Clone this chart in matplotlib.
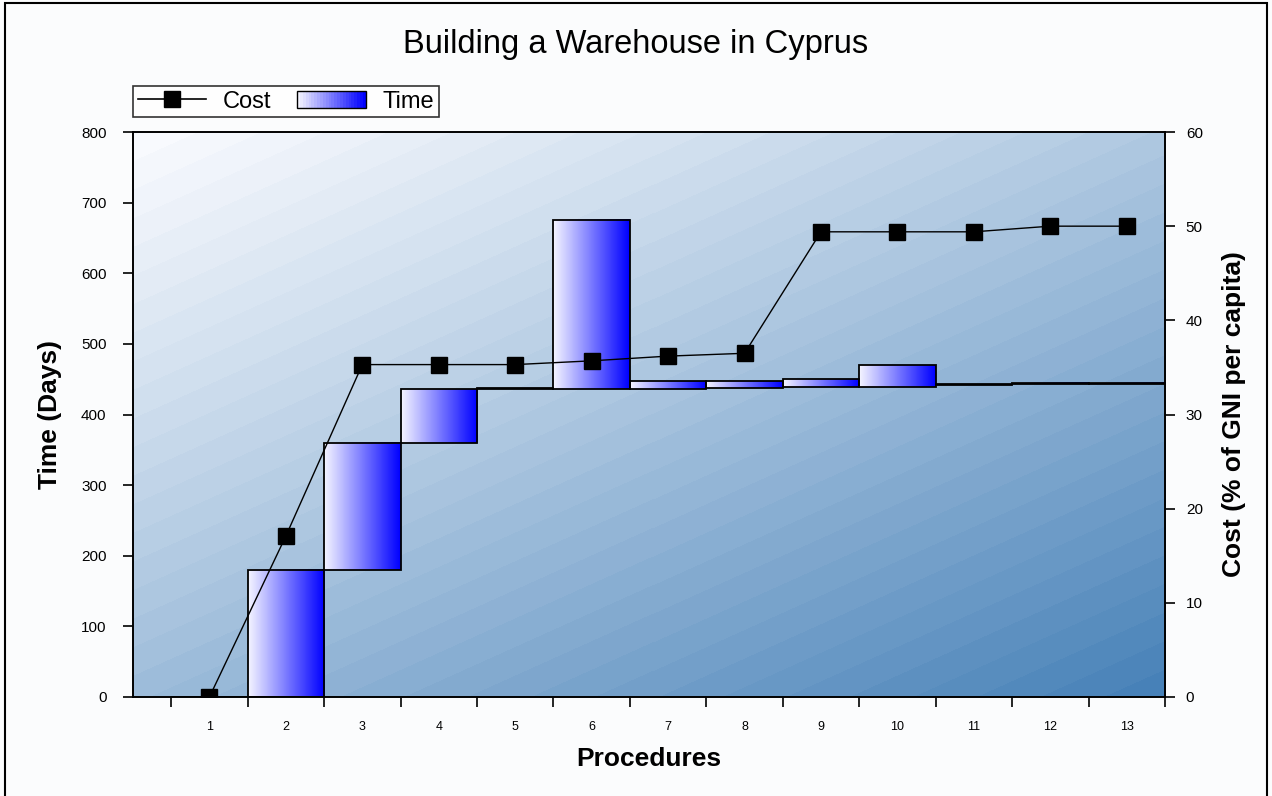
import numpy as np
import matplotlib
matplotlib.use("Agg")
import matplotlib.pyplot as plt
from matplotlib.patches import Rectangle
from matplotlib.lines import Line2D
from matplotlib.legend_handler import HandlerBase

plt.rcParams['font.family'] = ['Liberation Sans', 'DejaVu Sans']

# data
procedures = list(range(1, 14))
time_start = [0, 0, 180, 360, 436, 436, 436, 438, 439, 439, 442, 443, 443]
time_end = [0, 180, 360, 436, 437, 676, 447, 447, 450, 470, 443, 445, 445]
cost = [0, 17.1, 35.3, 35.3, 35.3, 35.7, 36.2, 36.5, 49.4, 49.4, 49.4, 50.0, 50.0]
time_ticks = list(range(0, 801, 100))
cost_ticks = list(range(0, 61, 10))

bar_cmap = matplotlib.colors.LinearSegmentedColormap.from_list('bar', ['#f4f4ff', '#0000ff'])

fig = plt.figure(figsize=(12.72, 7.96), dpi=100, facecolor='#fbfcfd')
ax = fig.add_axes([133 / 1272, 1 - 697 / 796, 1032 / 1272, 565 / 796])
ax2 = ax.twinx()

# diagonal banded background
W, H = 1032, 565
xx, yy = np.meshgrid(np.arange(W), np.arange(H))
t = (0.45 * xx + yy) / (0.45 * W + H)
t = np.floor(t * 36) / 36
c0 = np.array([248, 250, 254]) / 255
c1 = np.array([66, 126, 182]) / 255
bg = c0 + (c1 - c0) * t[..., None] ** 1.1
ax.imshow(bg, extent=(0, 1, 0, 1), transform=ax.transAxes, aspect='auto', zorder=0,
          interpolation='nearest')

# floating time bars
heights = [e - s for s, e in zip(time_start, time_end)]
bars = ax.bar(procedures, heights, bottom=time_start, width=1.0,
              facecolor='none', edgecolor='black', linewidth=1.3, zorder=3)
grad = np.linspace(0, 1, 64).reshape(1, -1)
for b in bars:
    if b.get_height() <= 0:
        continue
    x0, y0 = b.get_x(), b.get_y()
    ax.imshow(grad, cmap=bar_cmap, extent=(x0, x0 + b.get_width(), y0, y0 + b.get_height()),
              aspect='auto', zorder=2, interpolation='bilinear')

ax.set_xlim(0, 13.5)
ax.set_ylim(0, 800)
ax.set_yticks(time_ticks)
ax.set_xticks(procedures)
ax.set_xticks(np.arange(0.5, 13.6, 1), minor=True)
ax.tick_params(axis='x', which='major', length=0, labelsize=9, pad=17)
ax.tick_params(axis='x', which='minor', length=7, width=1.2, direction='out')
ax.tick_params(axis='y', length=7, width=1.2, labelsize=11, direction='out', pad=12)
ax.set_xlabel('Procedures', fontsize=19, fontweight='bold', labelpad=10)
ax.set_ylabel('Time (Days)', fontsize=19, fontweight='bold', labelpad=14)

# cost line
ax2.plot(procedures, cost, color='black', linewidth=1.0, marker='s', markersize=12,
         markerfacecolor='black', zorder=5)
ax2.set_ylim(0, 60)
ax2.set_yticks(cost_ticks)
ax2.tick_params(axis='y', length=7, width=1.2, labelsize=11, direction='out', pad=8)
ax2.set_ylabel('Cost (% of GNI per capita)', fontsize=19, fontweight='bold', labelpad=14)

for a in (ax, ax2):
    for s in a.spines.values():
        s.set_linewidth(1.2)
        s.set_color('black')

fig.suptitle('Building a Warehouse in Cyprus', fontsize=23.5, y=1 - 45 / 796, va='center')


class GradientHandler(HandlerBase):
    def create_artists(self, legend, orig_handle, xdescent, ydescent, width, height, fontsize, trans):
        n = 24
        arts = []
        for i in range(n):
            r = Rectangle((-xdescent + width * i / n, -ydescent), width / n + 0.3, height,
                          facecolor=bar_cmap(i / (n - 1)), edgecolor='none', transform=trans)
            arts.append(r)
        arts.append(Rectangle((-xdescent, -ydescent), width, height, facecolor='none',
                              edgecolor='black', linewidth=1.0, transform=trans))
        return arts


cost_handle = Line2D([], [], color='black', marker='s', markersize=12, linewidth=1.2)
time_handle = Rectangle((0, 0), 1, 1)
leg = fig.legend([cost_handle, time_handle], ['Cost', 'Time'], ncol=2,
                 loc='upper left', bbox_to_anchor=(133 / 1272, 1 - 86 / 796),
                 handler_map={Rectangle: GradientHandler()},
                 fontsize=17, frameon=True, fancybox=False, edgecolor='black',
                 borderpad=0.2, handlelength=2.9, handletextpad=0.7, columnspacing=1.1,
                 borderaxespad=0)
leg.get_frame().set_linewidth(1.2)
leg.get_frame().set_facecolor('white')

# outer frame
fig.patches.append(Rectangle((5 / 1272, -0.02), 1 - 10 / 1272, 1 - 3 / 796 + 0.02,
                             transform=fig.transFigure, fill=False, edgecolor='black',
                             linewidth=1.5))

fig.savefig('out.png', dpi=100, facecolor=fig.get_facecolor())
